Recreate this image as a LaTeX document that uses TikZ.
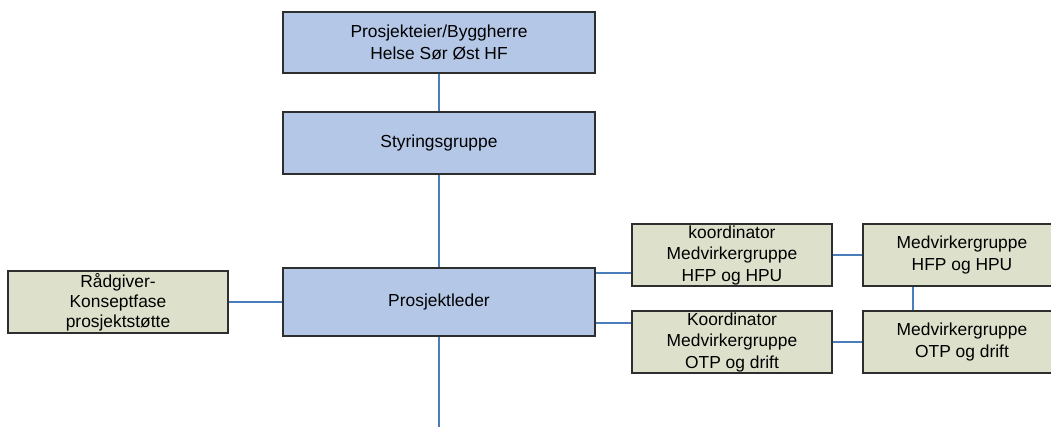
\documentclass[tikz,border=0pt]{standalone}
\usepackage{fontspec}
\setmainfont{Liberation Sans}
\definecolor{bluefill}{HTML}{B4C7E7}
\definecolor{greenfill}{HTML}{DDE1CB}
\definecolor{connblue}{HTML}{4A7EBB}
\definecolor{edge}{HTML}{2E2E2E}
\begin{document}
\begin{tikzpicture}[x=1pt,y=-1pt,
  box/.style={draw=edge, line width=1.1pt, align=center, inner sep=0pt,
    font=\fontsize{17.4}{21.5}\selectfont},
  bluebox/.style={box, fill=bluefill},
  greenbox/.style={box, fill=greenfill},
  conn/.style={draw=connblue, line width=2.6pt}]
\clip (0,0) rectangle (1051,426);
\node[bluebox, minimum width=312pt, minimum height=61pt] (own) at (439,42.5)
  {Prosjekteier/Byggherre\\Helse Sør Øst HF};
\node[bluebox, minimum width=312pt, minimum height=62pt] (styr) at (439,143)
  {Styringsgruppe};
\node[bluebox, minimum width=312pt, minimum height=68pt] (leder) at (439,302)
  {Prosjektleder};
\node[greenbox, minimum width=220pt, minimum height=62pt,
  font=\fontsize{17.4}{20}\selectfont] (raad) at (118,302)
  {Rådgiver-\\Konseptfase\\prosjektstøtte};
\node[greenbox, minimum width=200pt, minimum height=62pt] (koordA) at (732,255)
  {koordinator\\Medvirkergruppe\\HFP og HPU};
\node[greenbox, minimum width=200pt, minimum height=62pt] (koordB) at (732,342)
  {Koordinator\\Medvirkergruppe\\OTP og drift};
\node[greenbox, minimum width=198pt, minimum height=62pt] (medA) at (962,255)
  {Medvirkergruppe\\HFP og HPU};
\node[greenbox, minimum width=198pt, minimum height=62pt] (medB) at (962,342)
  {Medvirkergruppe\\OTP og drift};
\coordinate (bot) at (439,430);
\coordinate (a1) at ([yshift=-18pt]koordA.west);
\coordinate (b1) at ([yshift=19pt]koordB.west);
\coordinate (m1) at ([xshift=-49pt]medA.south);
\coordinate (m2) at ([xshift=-49pt]medB.north);
\draw[conn] (own) -- (styr);
\draw[conn] (styr) -- (leder);
\draw[conn] (leder) -- (bot);
\draw[conn] (raad) -- (leder);
\draw[conn] (a1) -- (a1 -| leder.east);
\draw[conn] (b1) -- (b1 -| leder.east);
\draw[conn] (koordA) -- (medA);
\draw[conn] (koordB) -- (medB);
\draw[conn] (m1) -- (m2);
\end{tikzpicture}
\end{document}
